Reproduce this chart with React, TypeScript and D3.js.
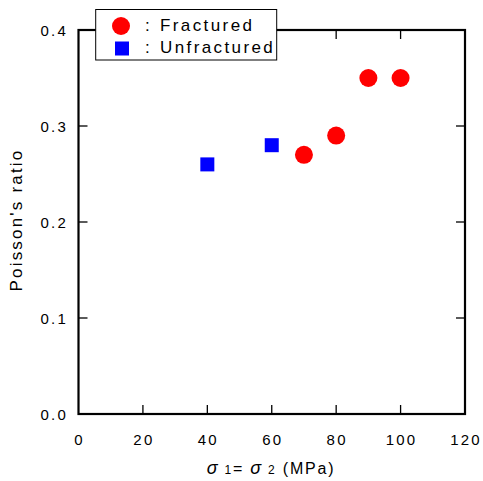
import React from "react";
import * as d3 from "d3";

const fracturedX = [70, 80, 90, 100];
const fracturedY = [0.27, 0.29, 0.35, 0.35];
const unfracturedX = [40, 60];
const unfracturedY = [0.26, 0.28];
const xTicks = [0, 20, 40, 60, 80, 100, 120];
const yTicks = [0, 0.1, 0.2, 0.3, 0.4];
const legendLabels = ["Fractured", "Unfractured"];

const FONT = "'Liberation Sans', Arial, Helvetica, sans-serif";

export default function App() {
  const W = 483, H = 481;
  const left = 78.5, right = 465, top = 30, bottom = 414;
  const x = d3.scaleLinear().domain([0, 120]).range([left, right]);
  const y = d3.scaleLinear().domain([0, 0.4]).range([bottom, top]);
  const fmtY = d3.format(".1f");
  const tick = 9;

  return (
    <svg width={W} height={H} style={{ position: "absolute", left: 0, top: 0, background: "#fff" }}
      fontFamily={FONT}>
      <rect x={0} y={0} width={W} height={H} fill="#fff" />
      {xTicks.slice(1, -1).map((t) => (
        <g key={"xt" + t}>
          <line x1={x(t)} x2={x(t)} y1={bottom} y2={bottom - tick} stroke="#000" strokeWidth={1.3} />
          <line x1={x(t)} x2={x(t)} y1={top} y2={top + tick} stroke="#000" strokeWidth={1.3} />
        </g>
      ))}
      {yTicks.slice(1, -1).map((t) => (
        <g key={"yt" + t}>
          <line x1={left} x2={left + tick} y1={y(t)} y2={y(t)} stroke="#000" strokeWidth={1.3} />
          <line x1={right} x2={right - tick} y1={y(t)} y2={y(t)} stroke="#000" strokeWidth={1.3} />
        </g>
      ))}
      <rect x={left} y={top} width={right - left} height={bottom - top} fill="none" stroke="#000" strokeWidth={2.2} />
      {xTicks.map((t) => (
        <text key={"xl" + t} x={x(t) + 1} y={445} textAnchor="middle" fontSize={15} letterSpacing={2.2} fill="#000">
          {t}
        </text>
      ))}
      {yTicks.map((t) => (
        <text key={"yl" + t} x={68} y={y(t) + 5.5} textAnchor="end" fontSize={15} letterSpacing={2.2} fill="#000">
          {fmtY(t)}
        </text>
      ))}
      <text x={271} y={474} textAnchor="middle" fontSize={16} letterSpacing={1.8} fill="#000">
        <tspan fontStyle="italic" fontSize={18}>σ</tspan>
        <tspan fontSize={12}> 1</tspan>
        <tspan>= </tspan>
        <tspan fontStyle="italic" fontSize={18}>σ</tspan>
        <tspan fontSize={12}> 2</tspan>
        <tspan> (MPa)</tspan>
      </text>
      <text transform={`translate(22,${220}) rotate(-90)`} textAnchor="middle" fontSize={17} letterSpacing={2.2} fill="#000">
        Poisson's ratio
      </text>
      {unfracturedX.map((v, i) => (
        <rect key={"u" + i} x={x(v) - 7} y={y(unfracturedY[i]) - 7} width={14} height={14} fill="#0000ff" />
      ))}
      {fracturedX.map((v, i) => (
        <circle key={"f" + i} cx={x(v)} cy={y(fracturedY[i])} r={9} fill="#ff0000" />
      ))}
      <rect x={95.7} y={9.5} width={181} height={50.5} fill="#fff" stroke="#000" strokeWidth={1} />
      <circle cx={121} cy={26} r={9} fill="#ff0000" />
      <rect x={115} y={41.5} width={14} height={14} fill="#0000ff" />
      <text x={145} y={31} fontSize={17} letterSpacing={2.4} fill="#000">
        <tspan>:</tspan><tspan x={160}>{legendLabels[0]}</tspan>
      </text>
      <text x={145} y={53} fontSize={17} letterSpacing={2.4} fill="#000">
        <tspan>:</tspan><tspan x={160}>{legendLabels[1]}</tspan>
      </text>
    </svg>
  );
}
